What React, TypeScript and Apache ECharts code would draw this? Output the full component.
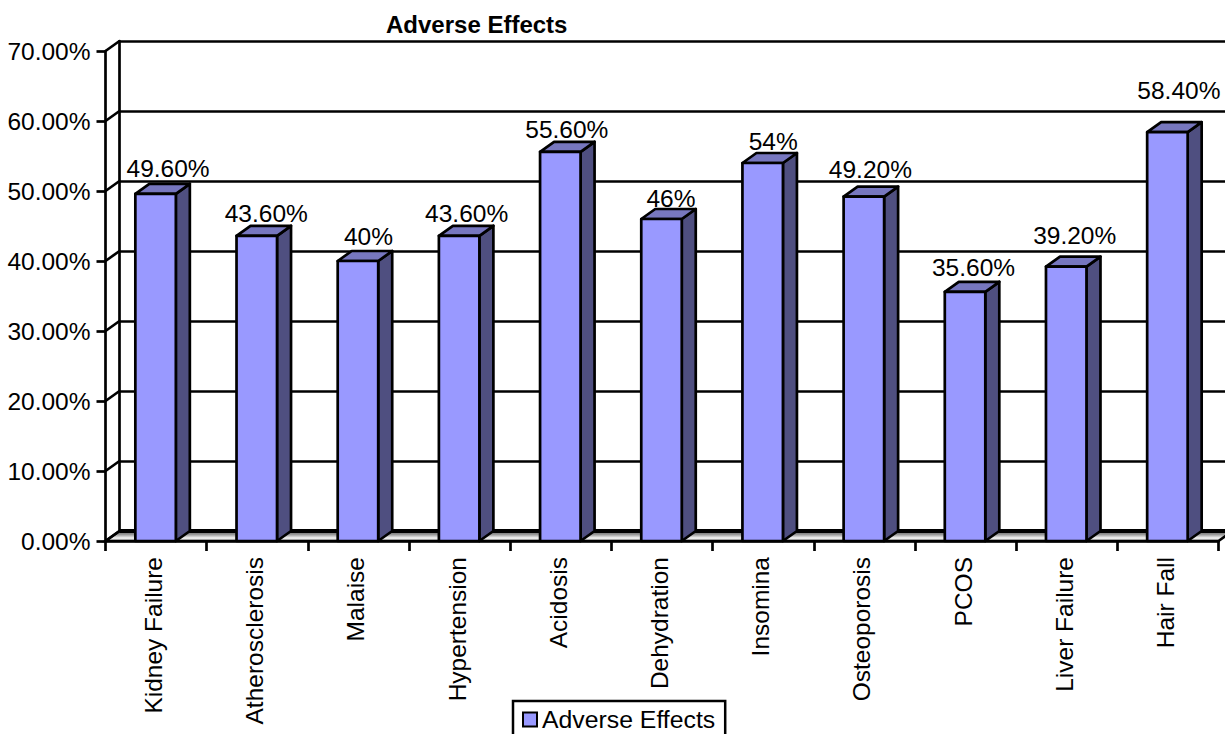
import React, { useEffect, useRef } from "react";
import * as echarts from "echarts";

const categories = [
  "Kidney Failure", "Atherosclerosis", "Malaise", "Hypertension", "Acidosis", "Dehydration",
  "Insomina", "Osteoporosis", "PCOS", "Liver Failure", "Hair Fall",
];
const adverseEffects = [49.6, 43.6, 40, 43.6, 55.6, 46, 54, 49.2, 35.6, 39.2, 58.4];
const axisTicks = [0, 10, 20, 30, 40, 50, 60, 70];
const seriesName = "Adverse Effects";

// Hand placement of the value labels relative to each column's top.
const labelShiftX = [12, 9, 10, 7, 6, 9, 10, 6, 8, 8, 11];
const labelShiftY = [15, 12, 15, 12, 12, 11, 12, 17, 14, 21, 32];

const W = 1225;
const H = 734;
const FONT = '"Liberation Sans", Arial, sans-serif';
const TEXT_SIZE = 24.5;
const DEPTH_X = 14;
const DEPTH_Y = 10;
const BAR_W = 40.5;
const LW = 2.7;
const FRONT = "#9999FF";
const TOP = "#7777BF";
const SIDE = "#4F4F80";
const INK = "#000";

const plot = { left: 105.5, top: 51, width: 1113, height: 490 };

const formatValue = (v: number) => (Number.isInteger(v) ? `${v}%` : `${v.toFixed(2)}%`);

function buildOption() {
  const outline = { stroke: INK, lineWidth: LW, lineJoin: "round" };
  return {
    animation: false,
    backgroundColor: "#fff",
    title: {
      text: seriesName,
      left: 386,
      top: 12,
      padding: 0,
      textStyle: { fontFamily: FONT, fontSize: 24, fontWeight: "bold", color: INK },
    },
    legend: {
      data: [seriesName],
      left: 513,
      top: 701,
      padding: [6, 10, 4, 9],
      itemWidth: 14,
      itemHeight: 14,
      itemGap: 0,
      icon: "rect",
      borderColor: INK,
      borderWidth: 2.5,
      itemStyle: { color: FRONT, borderColor: INK, borderWidth: 2 },
      textStyle: { fontFamily: FONT, fontSize: 24.8, color: INK, padding: [0, 0, 0, 0] },
      selectedMode: false,
    },
    grid: [
      { ...plot, containLabel: false },
      {
        left: plot.left + DEPTH_X,
        top: plot.top - DEPTH_Y,
        width: plot.width,
        height: plot.height,
      },
    ],
    xAxis: [
      {
        type: "category",
        gridIndex: 0,
        data: categories,
        boundaryGap: true,
        axisLine: { show: true, lineStyle: { color: INK, width: LW } },
        axisTick: { show: true, length: 10, lineStyle: { color: INK, width: LW } },
        splitLine: { show: false },
        axisLabel: {
          interval: 0,
          rotate: 90,
          margin: 16,
          // The bottom padding nudges the upright labels left of their tick's centre.
          formatter: (name: string) => `{c|${name}}`,
          rich: {
            c: {
              fontFamily: FONT,
              fontSize: TEXT_SIZE,
              color: INK,
              padding: [0, 0, 5, 0],
            },
          },
        },
      },
      {
        type: "category",
        gridIndex: 1,
        data: categories,
        show: false,
      },
    ],
    yAxis: [
      {
        type: "value",
        gridIndex: 0,
        min: 0,
        max: 70,
        interval: 10,
        axisLine: { show: true, lineStyle: { color: INK, width: LW } },
        axisTick: { show: true, length: 9, lineStyle: { color: INK, width: LW } },
        splitLine: { show: false },
        axisLabel: {
          margin: 15,
          formatter: (v: number) => `${v.toFixed(2)}%`,
          fontFamily: FONT,
          fontSize: TEXT_SIZE,
          color: INK,
        },
      },
      {
        // Back wall: same scale, shifted by the depth of the 3D box.
        type: "value",
        gridIndex: 1,
        min: 0,
        max: 70,
        interval: 10,
        axisLine: { show: true, lineStyle: { color: INK, width: LW } },
        axisTick: { show: false },
        axisLabel: { show: false },
        splitLine: { show: true, lineStyle: { color: INK, width: 2.5 } },
      },
    ],
    series: [
      {
        // Floor of the box, with the heavy edge along the back wall.
        type: "custom",
        name: "floor",
        xAxisIndex: 0,
        yAxisIndex: 0,
        data: [0],
        z: 3,
        silent: true,
        renderItem: (params: any, api: any) => {
          const cs = params.coordSys;
          const y0 = api.coord([0, 0])[1];
          const x0 = cs.x;
          const x1 = cs.x + cs.width;
          return {
            type: "group",
            children: [
              {
                type: "polygon",
                shape: {
                  points: [
                    [x0, y0],
                    [x0 + DEPTH_X, y0 - DEPTH_Y],
                    [x1 + DEPTH_X, y0 - DEPTH_Y],
                    [x1, y0],
                  ],
                },
                style: {
                  fill: new echarts.graphic.LinearGradient(0, 0, 0, 1, [
                    { offset: 0, color: "#707070" },
                    { offset: 0.3, color: "#8c8c8c" },
                    { offset: 0.7, color: "#f4f4f4" },
                    { offset: 1, color: "#bdbdbd" },
                  ]),
                  stroke: INK,
                  lineWidth: LW,
                },
              },
              {
                type: "line",
                shape: { x1: x0 + DEPTH_X, y1: y0 - DEPTH_Y, x2: x1 + DEPTH_X, y2: y0 - DEPTH_Y },
                style: { stroke: INK, lineWidth: 4 },
              },
            ],
          };
        },
      },
      {
        // Diagonals joining the front axis ticks to the wall's gridlines.
        type: "custom",
        name: "connectors",
        xAxisIndex: 0,
        yAxisIndex: 0,
        data: axisTicks.map((t) => [0, t]),
        z: 3,
        silent: true,
        renderItem: (params: any, api: any) => {
          const x = params.coordSys.x;
          const y = api.coord([0, api.value(1)])[1];
          return {
            type: "line",
            shape: { x1: x, y1: y, x2: x + DEPTH_X, y2: y - DEPTH_Y },
            style: { stroke: INK, lineWidth: LW },
          };
        },
      },
      {
        type: "custom",
        name: seriesName,
        xAxisIndex: 0,
        yAxisIndex: 0,
        encode: { x: 0, y: 1 },
        data: adverseEffects.map((v, i) => [i, v]),
        itemStyle: { color: FRONT },
        z: 4,
        renderItem: (params: any, api: any) => {
          const i = api.value(0);
          const v = api.value(1);
          const [cx, top] = api.coord([i, v]);
          const base = api.coord([i, 0])[1];
          const l = cx - BAR_W / 2 - 0.5;
          const r = l + BAR_W;
          return {
            type: "group",
            children: [
              {
                type: "polygon",
                shape: {
                  points: [
                    [r, top],
                    [r + DEPTH_X, top - DEPTH_Y],
                    [r + DEPTH_X, base - DEPTH_Y],
                    [r, base],
                  ],
                },
                style: { fill: SIDE, ...outline },
              },
              {
                type: "polygon",
                shape: {
                  points: [
                    [l, top],
                    [l + DEPTH_X, top - DEPTH_Y],
                    [r + DEPTH_X, top - DEPTH_Y],
                    [r, top],
                  ],
                },
                style: { fill: TOP, ...outline },
              },
              {
                type: "rect",
                shape: { x: l, y: top, width: BAR_W, height: base - top },
                style: { fill: FRONT, ...outline },
              },
              {
                type: "text",
                x: cx + labelShiftX[i],
                y: top - DEPTH_Y - labelShiftY[i],
                style: {
                  text: formatValue(v),
                  fontFamily: FONT,
                  fontSize: TEXT_SIZE,
                  fill: INK,
                  align: "center",
                  verticalAlign: "middle",
                },
              },
            ],
          };
        },
      },
    ],
  };
}

export default function App() {
  const ref = useRef<HTMLDivElement>(null);
  useEffect(() => {
    const chart = echarts.init(ref.current!, undefined, { renderer: "svg" });
    chart.setOption(buildOption() as any);
    return () => chart.dispose();
  }, []);
  return (
    <div
      ref={ref}
      style={{ position: "absolute", left: 0, top: 0, width: W, height: H, overflow: "hidden" }}
    />
  );
}
